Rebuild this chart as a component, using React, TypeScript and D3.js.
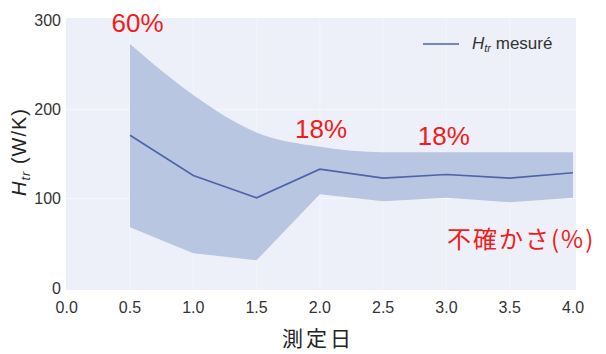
import React from "react";
import * as d3 from "d3";

const days = [0.5, 1.0, 1.5, 2.0, 2.5, 3.0, 3.5, 4.0];
const measured = [171, 126, 101, 133, 123, 127, 123, 129];
const upper = [273, 216, 174, 158, 152, 152, 152, 152];
const lower = [68, 39, 31, 105, 97, 101, 96, 101];
const xTicks = [0, 0.5, 1.0, 1.5, 2.0, 2.5, 3.0, 3.5, 4.0];
const yTicks = [0, 100, 200, 300];
const annotations = [
  { label: "60%", x: 0.56, y: 287 },
  { label: "18%", x: 2.01, y: 168 },
  { label: "18%", x: 2.98, y: 160 },
];

export default function App() {
  const W = 606, H = 354;
  const x = d3.scaleLinear().domain([0, 4]).range([66.7, 573]);
  const y = d3.scaleLinear().domain([0, 300]).range([288, 20]);
  const idx = days.map((_, i) => i);
  const upperLine = d3.line<number>()
    .x((i) => x(days[i]))
    .y((i) => y(upper[i]))
    .curve(d3.curveMonotoneX);
  const lowerLine = d3.line<number>()
    .x((i) => x(days[i]))
    .y((i) => y(lower[i]));
  const revIdx = [...idx].reverse();
  const bandPath = (upperLine(idx) || "") + "L" + (lowerLine(revIdx) || "").slice(1) + "Z";
  const line = d3.line<number>()
    .x((i) => x(days[i]))
    .y((i) => y(measured[i]));
  const tickFont = "'Liberation Sans', Arial, sans-serif";
  return (
    <svg width={W} height={H} style={{ position: "absolute", left: 0, top: 0, background: "#fff" }}>
      <rect x={66} y={18} width={510} height={272} fill="#edf0f8" />
      {yTicks.filter((t) => t > 0 && t < 300).map((t) => (
        <line key={t} x1={66} x2={576} y1={y(t)} y2={y(t)} stroke="#f7f8fc" strokeWidth={1} />
      ))}
      {xTicks.filter((t) => t > 0 && t < 4).map((t) => (
        <line key={t} x1={x(t)} x2={x(t)} y1={18} y2={290} stroke="#f3f5fa" strokeWidth={1} />
      ))}
      <path d={bandPath} fill="#b9c6e2" />
      <path d={line(idx) || ""} fill="none" stroke="#4b64aa" strokeWidth={1.6} />
      {yTicks.map((t) => (
        <text key={t} x={61} y={y(t)} dy="0.35em" textAnchor="end" fontFamily={tickFont} fontSize={16} fill="#333">
          {t}
        </text>
      ))}
      {xTicks.map((t) => (
        <text key={t} x={x(t)} y={313} textAnchor="middle" fontFamily={tickFont} fontSize={16} fill="#333">
          {t.toFixed(1)}
        </text>
      ))}
      <text x={318} y={346} textAnchor="middle" fontFamily="'Noto Sans CJK JP', sans-serif" fontSize={21} letterSpacing={3} fill="#222">
        測定日
      </text>
      <text transform="translate(26,152) rotate(-90)" textAnchor="middle" fontFamily={tickFont} fontSize={20} letterSpacing={1} fill="#222">
        <tspan fontStyle="italic">H</tspan>
        <tspan fontStyle="italic" fontSize={13} dy={4}>tr</tspan>
        <tspan dy={-4}> (W/K)</tspan>
      </text>
      <line x1={423} x2={459} y1={44} y2={44} stroke="#4b64aa" strokeWidth={1.6} />
      <text x={472} y={49} fontFamily={tickFont} fontSize={17} fill="#333">
        <tspan fontStyle="italic">H</tspan>
        <tspan fontStyle="italic" fontSize={11} dy={3}>tr</tspan>
        <tspan dy={-3}> mesuré</tspan>
      </text>
      {annotations.map((a, i) => (
        <text key={i} x={x(a.x)} y={y(a.y)} textAnchor="middle" fontFamily="'Liberation Sans', Arial, sans-serif" fontSize={26} fill="#f01c1c">
          {a.label}
        </text>
      ))}
      <text x={447} y={248} fontFamily="'Noto Sans CJK JP', sans-serif" fontSize={24} letterSpacing={2} fill="#f01c1c">
        不確かさ(%)
      </text>
    </svg>
  );
}
